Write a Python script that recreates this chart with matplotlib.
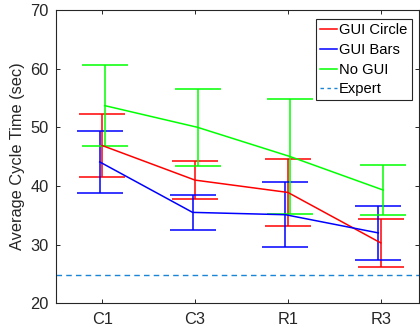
import matplotlib
matplotlib.use("Agg")
import matplotlib.pyplot as plt
from matplotlib.lines import Line2D
import numpy as np

categories = ["C1", "C3", "R1", "R3"]
gui_circle_mean = [46.9, 41.0, 38.9, 30.3]
gui_circle_err = [5.3, 3.2, 5.7, 4.05]
gui_bars_mean = [44.1, 35.5, 35.1, 32.0]
gui_bars_err = [5.25, 3.0, 5.5, 4.65]
no_gui_mean = [53.7, 50.0, 45.0, 39.3]
no_gui_err = [6.85, 6.6, 9.85, 4.25]
expert_value = 24.9

plt.rcParams['font.family'] = ['Liberation Sans', 'DejaVu Sans']
fig = plt.figure(figsize=(4.2, 3.32), dpi=100)
ax = fig.add_axes([0.1326, 0.0864, 0.8657, 0.8836])

x = np.arange(1, len(categories) + 1)
series = [
    ("GUI Circle", gui_circle_mean, gui_circle_err, "#ff0000", 0.0),
    ("GUI Bars", gui_bars_mean, gui_bars_err, "#0000ff", -0.026),
    ("No GUI", no_gui_mean, no_gui_err, "#00ff00", 0.027),
]
handles = []
for name, m, e, c, off in series:
    ax.errorbar(x + off, m, yerr=e, color=c, lw=1.1, elinewidth=1.1,
                capsize=16.8, capthick=1.1)
    handles.append(Line2D([0], [0], color=c, lw=1.1, label=name))

ax.axhline(expert_value, color="#1a85d6", lw=1.0, dashes=(4, 3))
handles.append(Line2D([0], [0], color="#1a85d6", lw=1.0, dashes=(2.5, 2.5), label="Expert"))

ax.set_xlim(0.5, 4.415)
ax.set_ylim(20, 70)
ax.set_xticks(x)
ax.set_xticklabels(categories)
ax.set_yticks([20, 30, 40, 50, 60, 70])
ax.set_ylabel("Average Cycle Time (sec)", fontsize=11.8, color="#262626", labelpad=4)

ax.tick_params(direction="in", length=3, width=0.7, colors="#262626",
               labelsize=11.8, top=True, right=True)
ax.tick_params(axis="x", pad=6.5)
ax.tick_params(axis="y", pad=5)
for s in ax.spines.values():
    s.set_color("#262626")
    s.set_linewidth(0.8)

leg = ax.legend(handles=handles, loc="upper right",
                bbox_to_anchor=(0.979, 0.968), borderaxespad=0,
                fontsize=10.6, fancybox=False, framealpha=1,
                edgecolor="#262626", handlelength=1.2, handletextpad=0.12,
                borderpad=0.28, labelspacing=0.38)
leg.get_frame().set_linewidth(0.8)

fig.savefig("out.png", dpi=100)
